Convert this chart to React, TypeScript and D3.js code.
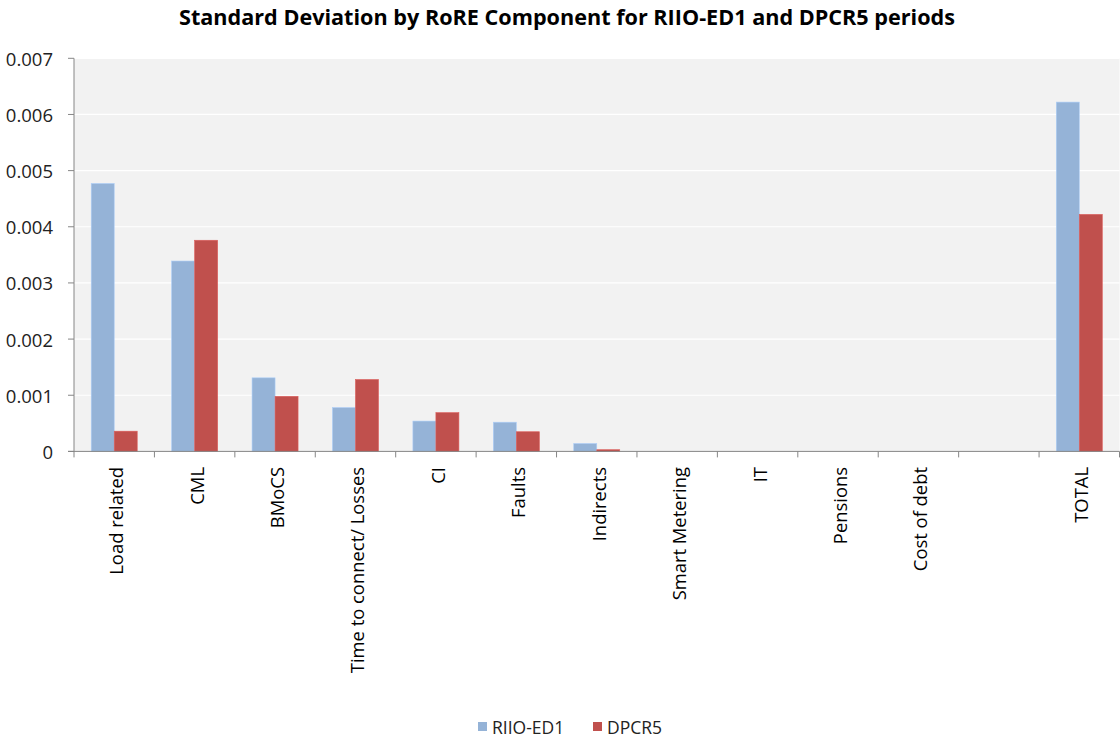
import React from "react";
import * as d3 from "d3";

const categories = [
  "Load related",
  "CML",
  "BMoCS",
  "Time to connect/ Losses",
  "CI",
  "Faults",
  "Indirects",
  "Smart Metering",
  "IT",
  "Pensions",
  "Cost of debt",
  "",
  "TOTAL",
];
const seriesNames = ["RIIO-ED1", "DPCR5"];
const riioEd1 = [0.00477, 0.00339, 0.00131, 0.00078, 0.00054, 0.00052, 0.00014, 0, 0, 0, 0, null, 0.00622];
const dpcr5 = [0.00036, 0.00376, 0.00098, 0.00128, 0.00069, 0.00035, 0.00003, 0, 0, 0, 0, null, 0.00422];
const yTicks = [0, 0.001, 0.002, 0.003, 0.004, 0.005, 0.006, 0.007];
const colors = ["#95b3d7", "#c0504d"];

const W = 1120;
const H = 742;
const plot = { left: 74, right: 1119.5, top: 58.3, bottom: 451.4 };
const FONT = "'Open Sans', Lato, sans-serif";

export default function App() {
  const x = d3
    .scaleBand<number>()
    .domain(categories.map((_, i) => i))
    .range([plot.left, plot.right]);
  const bw = x.bandwidth();
  const barW = 23;
  const x1 = d3
    .scaleBand<string>()
    .domain(seriesNames)
    .range([(bw - 2 * barW) / 2, (bw + 2 * barW) / 2]);
  const y = d3.scaleLinear().domain([0, 0.007]).range([plot.bottom, plot.top]);
  const seriesValues = [riioEd1, dpcr5];

  return (
    <svg
      width={W}
      height={H}
      style={{ position: "absolute", left: 0, top: 0, fontFamily: FONT }}
    >
      <rect x={0} y={0} width={W} height={H} fill="#ffffff" />
      <text
        x={179}
        y={25}
        fontSize={22}
        fontWeight="bold"
        fill="#000"
        textLength={776}
        lengthAdjust="spacingAndGlyphs"
      >
        Standard Deviation by RoRE Component for RIIO-ED1 and DPCR5 periods
      </text>

      <rect
        x={plot.left}
        y={y(0.007)}
        width={plot.right - plot.left}
        height={y(0) - y(0.007)}
        fill="#f2f2f2"
      />
      {yTicks.slice(1).map((t) => (
        <line
          key={"g" + t}
          x1={plot.left}
          x2={plot.right}
          y1={y(t)}
          y2={y(t)}
          stroke="#ffffff"
          strokeWidth={1.2}
        />
      ))}

      {seriesValues.map((vals, si) =>
        vals.map((v, ci) =>
          v == null || v <= 0 ? null : (
            <rect
              key={si + "-" + ci}
              x={(x(ci) as number) + (x1(seriesNames[si]) as number)}
              y={y(v)}
              width={x1.bandwidth()}
              height={y(0) - y(v)}
              fill={colors[si]}
              stroke={d3.color(colors[si])!.brighter(0.4).toString()}
              strokeWidth={0.6}
            />
          )
        )
      )}

      {/* axes */}
      <line x1={plot.left} x2={plot.left} y1={y(0.007)} y2={y(0)} stroke="#868686" strokeWidth={1} />
      <line x1={plot.left - 6} x2={plot.right} y1={y(0)} y2={y(0)} stroke="#868686" strokeWidth={1} />
      {yTicks.map((t) => (
        <g key={"yt" + t}>
          <line x1={plot.left - 6} x2={plot.left} y1={y(t)} y2={y(t)} stroke="#868686" />
          <text
            x={53}
            y={y(t)}
            textAnchor="end"
            dominantBaseline="central"
            fontSize={18.5}
            fill="#222"
          >
            {t === 0 ? "0" : d3.format(".3f")(t)}
          </text>
        </g>
      ))}
      {categories.map((_, i) => (
        <line
          key={"xt" + i}
          x1={x(i) as number}
          x2={x(i) as number}
          y1={y(0)}
          y2={y(0) + 6}
          stroke="#868686"
        />
      ))}
      <line x1={plot.right} x2={plot.right} y1={y(0)} y2={y(0) + 6} stroke="#868686" />
      {categories.map((c, i) => {
        const cx = (x(i) as number) + bw / 2 + 1.5;
        const ty = 467;
        return (
          <text
            key={"xl" + i}
            transform={`translate(${cx},${ty}) rotate(-90)`}
            textAnchor="end"
            dominantBaseline="central"
            fontSize={18.4}
            fill="#000"
          >
            {c}
          </text>
        );
      })}

      {/* legend */}
      {seriesNames.map((s, i) => {
        const lx = [478, 593][i];
        return (
          <g key={"lg" + s}>
            <rect x={lx} y={722} width={9} height={9} fill={colors[i]} />
            <text x={lx + 14} y={727} dominantBaseline="central" fontSize={17.5} fill="#222">
              {s}
            </text>
          </g>
        );
      })}
    </svg>
  );
}
